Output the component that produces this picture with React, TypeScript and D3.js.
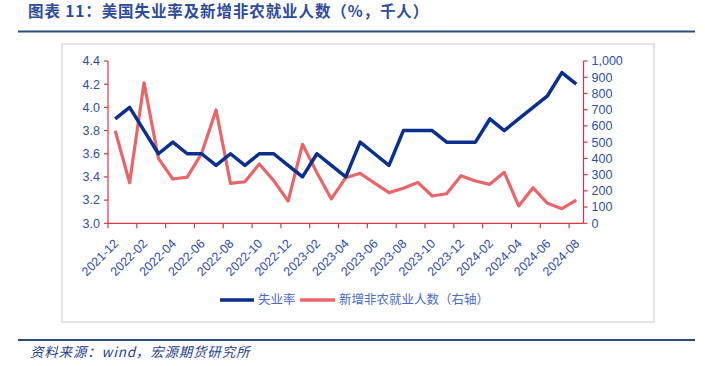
import React from "react";
import * as d3 from "d3";

const categories = [
  "2021-12", "2022-01", "2022-02", "2022-03", "2022-04", "2022-05", "2022-06", "2022-07", "2022-08", "2022-09", "2022-10", "2022-11",
  "2022-12", "2023-01", "2023-02", "2023-03", "2023-04", "2023-05", "2023-06", "2023-07", "2023-08", "2023-09", "2023-10", "2023-11",
  "2023-12", "2024-01", "2024-02", "2024-03", "2024-04", "2024-05", "2024-06", "2024-07", "2024-08",
];
const unemployment = [
  3.9, 4.0, 3.8, 3.6, 3.7, 3.6, 3.6, 3.5, 3.6, 3.5, 3.6, 3.6,
  3.5, 3.4, 3.6, 3.5, 3.4, 3.7, 3.6, 3.5, 3.8, 3.8, 3.8, 3.7,
  3.7, 3.7, 3.9, 3.8, 3.9, 4.0, 4.1, 4.3, 4.2,
];
const payrolls = [
  570, 250, 866, 400, 273, 285, 431, 698, 246, 256, 365, 263,
  137, 487, 311, 150, 281, 308, 248, 189, 216, 252, 168, 182,
  293, 261, 240, 314, 107, 219, 123, 90, 143,
];
const leftTicks = [3.0, 3.2, 3.4, 3.6, 3.8, 4.0, 4.2, 4.4];
const rightTicks = [0, 100, 200, 300, 400, 500, 600, 700, 800, 900, 1000];
const seriesNames = ["失业率", "新增非农就业人数（右轴）"];
const title = "图表 11：美国失业率及新增非农就业人数（%，千人）";
const source = "资料来源：wind，宏源期货研究所";

const W = 705, H = 366;
const plot = { left: 108, right: 583.5, top: 61, bottom: 223.3 };
const BLUE = "#0A2F8F";
const RED = "#E8666A";
const AXIS = "#D9363E";
const LABEL = "#2F4FA6";
const FONT = "'Liberation Sans', Arial, sans-serif";
const CJK = "'Noto Sans CJK SC', sans-serif";

export default function App() {
  const x = d3.scaleBand<string>().domain(categories).range([plot.left, plot.right]).paddingInner(0).paddingOuter(0);
  const bw = x.bandwidth();
  const cx = (c: string) => (x(c) as number) + bw / 2;
  const yL = d3.scaleLinear().domain([3.0, 4.4]).range([plot.bottom, plot.top]);
  const yR = d3.scaleLinear().domain([0, 1000]).range([plot.bottom, plot.top]);

  const lineL = d3.line<number>().x((_, i) => cx(categories[i])).y((d) => yL(d));
  const lineR = d3.line<number>().x((_, i) => cx(categories[i])).y((d) => yR(d));
  const fmtR = d3.format(",");

  const tickCats = categories.filter((_, i) => i % 2 === 0);

  return (
    <svg width={W} height={H} style={{ position: "absolute", left: 0, top: 0, background: "#fff" }}>
      {/* title */}
      <text x={28} y={17} fontFamily={CJK} fontWeight={700} fontSize={15.5} letterSpacing={0.9} fill="#2E4C9B">{title}</text>
      <line x1={18} x2={695} y1={31.5} y2={31.5} stroke="#2E4A7E" strokeWidth={2} />

      {/* chart frame */}
      <rect x={62} y={44} width={592} height={278} fill="none" stroke="#DCDCDC" strokeWidth={1.5} />

      {/* series */}
      <path d={lineR(payrolls) || ""} fill="none" stroke={RED} strokeWidth={3.2} strokeLinejoin="round" />
      <path d={lineL(unemployment) || ""} fill="none" stroke={BLUE} strokeWidth={3.5} strokeLinejoin="round" />

      {/* left axis */}
      <line x1={plot.left} x2={plot.left} y1={plot.top} y2={plot.bottom} stroke={AXIS} strokeWidth={1.2} />
      {leftTicks.map((t) => (
        <g key={"l" + t}>
          <line x1={plot.left - 4} x2={plot.left} y1={yL(t)} y2={yL(t)} stroke={AXIS} strokeWidth={1.2} />
          <text x={plot.left - 8} y={yL(t)} dy="0.35em" textAnchor="end" fontFamily={FONT} fontSize={12.5} fill={LABEL}>
            {t.toFixed(1)}
          </text>
        </g>
      ))}

      {/* right axis */}
      <line x1={plot.right} x2={plot.right} y1={plot.top} y2={plot.bottom} stroke={AXIS} strokeWidth={1.2} />
      {rightTicks.map((t) => (
        <g key={"r" + t}>
          <line x1={plot.right} x2={plot.right + 4} y1={yR(t)} y2={yR(t)} stroke={AXIS} strokeWidth={1.2} />
          <text x={plot.right + 8} y={yR(t)} dy="0.35em" textAnchor="start" fontFamily={FONT} fontSize={12.5} fill={LABEL}>
            {fmtR(t)}
          </text>
        </g>
      ))}

      {/* x axis */}
      <line x1={plot.left} x2={plot.right} y1={plot.bottom} y2={plot.bottom} stroke={AXIS} strokeWidth={1.2} />
      {tickCats.map((c) => (
        <line key={"t" + c} x1={x(c) as number} x2={x(c) as number} y1={plot.bottom} y2={plot.bottom + 5} stroke={AXIS} strokeWidth={1.2} />
      ))}
      {tickCats.map((c) => {
        const ax = cx(c) + 4;
        const ay = plot.bottom + 21;
        return (
          <text key={"x" + c} x={ax} y={ay} transform={`rotate(-45 ${ax} ${ay})`} textAnchor="end" fontFamily={FONT} fontSize={12.5} fill={LABEL}>
            {c}
          </text>
        );
      })}

      {/* legend */}
      <line x1={220} x2={254} y1={300} y2={300} stroke={BLUE} strokeWidth={3.5} />
      <text x={258} y={300} dy="0.35em" fontFamily={CJK} fontSize={12.5} fill="#4A6CCB">{seriesNames[0]}</text>
      <line x1={300} x2={335} y1={300} y2={300} stroke={RED} strokeWidth={3.5} />
      <text x={339} y={300} dy="0.35em" fontFamily={CJK} fontSize={12.5} fill="#4A6CCB">{seriesNames[1]}</text>

      {/* footer */}
      <line x1={18} x2={695} y1={340} y2={340} stroke="#2E4A7E" strokeWidth={2} />
      <text x={30} y={357} fontFamily={CJK} fontStyle="italic" fontSize={13.5} letterSpacing={0.8} fill="#1F3F8F">{source}</text>
    </svg>
  );
}
